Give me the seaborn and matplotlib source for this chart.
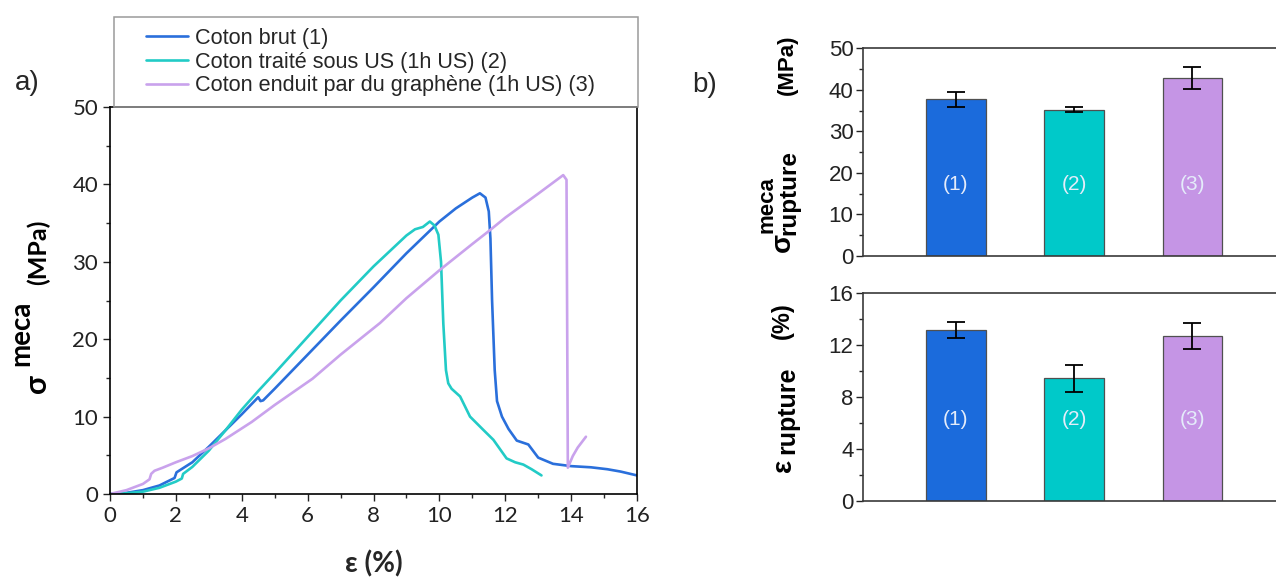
import numpy as np
import pandas as pd
import matplotlib
matplotlib.use("Agg")
import matplotlib.pyplot as plt
import seaborn as sns
from matplotlib.ticker import MultipleLocator
from matplotlib.patches import Rectangle

# ---------------- data ----------------
series_names = ["Coton brut (1)",
                "Coton traité sous US (1h US) (2)",
                "Coton enduit par du graphène (1h US) (3)"]

brut_strain = [0, 0.5, 1.0, 1.5, 1.96, 2.02, 2.5, 3.0, 3.5, 4.0, 4.5, 4.57, 4.65, 5.0, 6.0,
               7.0, 8.0, 9.0, 10.0, 10.5, 11.0, 11.23, 11.4, 11.5, 11.55, 11.6, 11.68, 11.75,
               11.9, 12.1, 12.35, 12.7, 13.0, 13.45, 14.0, 14.6, 15.1, 15.5, 16.0]
brut_stress = [0, 0.15, 0.5, 1.1, 2.07, 2.8, 4.1, 6.1, 8.2, 10.3, 12.5, 12.0, 12.1, 13.6, 18.0,
               22.4, 26.7, 31.1, 35.2, 36.9, 38.3, 38.85, 38.3, 36.5, 33.0, 25.0, 16.0, 12.0,
               10.0, 8.4, 6.9, 6.4, 4.7, 3.9, 3.6, 3.45, 3.2, 2.9, 2.4]

us_strain = [0, 0.5, 1.0, 1.5, 2.0, 2.18, 2.22, 2.5, 3.0, 3.5, 4.0, 4.5, 5.0, 6.0, 7.0, 8.0,
             8.5, 9.0, 9.26, 9.5, 9.71, 9.85, 9.97, 10.05, 10.12, 10.2, 10.27, 10.37, 10.63,
             10.93, 11.33, 11.64, 12.04, 12.3, 12.55, 12.8, 13.1]
us_stress = [0, 0.1, 0.3, 0.8, 1.6, 2.0, 2.6, 3.5, 5.6, 8.2, 10.9, 13.3, 15.6, 20.3, 25.0, 29.4,
             31.4, 33.4, 34.2, 34.5, 35.2, 34.7, 33.5, 30.0, 22.0, 16.0, 14.3, 13.6, 12.6,
             10.0, 8.3, 7.0, 4.6, 4.1, 3.8, 3.2, 2.4]

gr_strain = [0, 0.5, 1.0, 1.2, 1.25, 1.35, 1.6, 2.0, 2.5, 3.0, 3.5, 4.3, 5.0, 6.15, 7.0, 8.2,
             9.0, 10.0, 11.0, 11.54, 12.0, 13.0, 13.76, 13.86, 13.9, 14.05, 14.2, 14.45]
gr_stress = [0, 0.5, 1.3, 1.9, 2.6, 3.0, 3.4, 4.1, 4.9, 5.9, 7.1, 9.3, 11.5, 14.9, 18.0, 22.1,
             25.3, 28.9, 32.3, 34.1, 35.7, 38.8, 41.2, 40.6, 3.4, 4.9, 6.0, 7.4]

bar_labels = ["(1)", "(2)", "(3)"]
sigma_rupture = [37.7, 35.2, 42.8]
sigma_err = [1.9, 0.6, 2.7]
eps_rupture = [13.17, 9.44, 12.71]
eps_err = [0.6, 1.03, 1.03]

line_colors = ["#2A6FDB", "#22CBC6", "#C9A2EC"]
bar_colors = ["#1B6BDC", "#00C9C9", "#C595E5"]

# ---------------- style ----------------
sns.set_style("ticks")
plt.rcParams["font.family"] = ["Liberation Sans", "DejaVu Sans"]

W, H = 1276, 578
fig = plt.figure(figsize=(W / 100, H / 100), dpi=100)


def fx(px):
    return px / W


def fy(py):
    return 1 - py / H


# ---------------- panel a ----------------
ax = fig.add_axes([fx(110), fy(494), fx(637) - fx(110), fy(107) - fy(494)])
df = pd.concat([
    pd.DataFrame({"strain": brut_strain, "stress": brut_stress, "sample": series_names[0]}),
    pd.DataFrame({"strain": us_strain, "stress": us_stress, "sample": series_names[1]}),
    pd.DataFrame({"strain": gr_strain, "stress": gr_stress, "sample": series_names[2]}),
])
sns.lineplot(data=df, x="strain", y="stress", hue="sample", hue_order=series_names,
             palette=line_colors, sort=False, estimator=None, linewidth=1.9, ax=ax)
ax.set_xlim(0, 16)
ax.set_ylim(0, 50)
ax.xaxis.set_major_locator(MultipleLocator(2))
ax.xaxis.set_minor_locator(MultipleLocator(1))
ax.yaxis.set_major_locator(MultipleLocator(10))
ax.yaxis.set_minor_locator(MultipleLocator(5))
ax.tick_params(which="major", direction="out", length=5, width=1, labelsize=16, colors="#222222")
ax.tick_params(which="minor", direction="out", length=3, width=1)
for lab in ax.get_xticklabels() + ax.get_yticklabels():
    lab.set_family(["Lato", "DejaVu Sans"])
for s in ax.spines.values():
    s.set_visible(True)
    s.set_linewidth(1.2)
    s.set_color("black")
ax.set_xlabel("ε (%)", fontsize=20, fontweight="bold", family=["Lato", "DejaVu Sans"], labelpad=18)
ax.set_ylabel("")

handles, labels = ax.get_legend_handles_labels()
ax.get_legend().remove()
fig.legend(handles, labels, loc="upper left", bbox_to_anchor=(fx(146), fy(28)),
           bbox_transform=fig.transFigure, frameon=False, fontsize=15.6,
           handlelength=1.95, handletextpad=0.3, labelspacing=0.12, borderpad=0,
           borderaxespad=0)
fig.add_artist(Rectangle((fx(113.5), fy(107)), fx(637.5) - fx(113.5), fy(16.8) - fy(107),
                         transform=fig.transFigure, fill=False, edgecolor="#9a9a9a", lw=1.1))

# left y label pieces (sigma, raised "meca", "(MPa)")
lab_kw = dict(rotation=90, rotation_mode="anchor", ha="left", va="baseline",
              fontweight="bold", family=["Lato", "DejaVu Sans"], color="black")
fig.text(fx(46), fy(393), "σ", fontsize=22, **lab_kw)
fig.text(fx(29), fy(366), "meca", fontsize=20, **lab_kw)
fig.text(fx(46), fy(285), "(MPa)", fontsize=18, **lab_kw)

fig.text(fx(27), fy(83), "a)", fontsize=20, ha="center", va="center")
fig.text(fx(705), fy(85), "b)", fontsize=20, ha="center", va="center")

# ---------------- panel b ----------------
xl = (-0.784, 2.707)
rk = dict(rotation=90, rotation_mode="anchor", ha="left", va="baseline",
          fontweight="bold", color="black")


def bar_panel(rect, values, errs, ylim, major, minor, label_y):
    bx = fig.add_axes(rect)
    sns.barplot(x=bar_labels, y=values, hue=bar_labels, palette=bar_colors, legend=False,
                saturation=1, width=0.505, edgecolor="#505050", linewidth=0.9,
                errorbar=None, ax=bx)
    patches = sorted(bx.patches, key=lambda p: p.get_x())
    centers = [p.get_x() + p.get_width() / 2 for p in patches]
    bx.errorbar(centers, values, yerr=errs, fmt="none", ecolor="black",
                elinewidth=1.3, capsize=6.5, capthick=1.3)
    for c, lab in zip(centers, bar_labels):
        bx.text(c, label_y, lab, ha="center", va="center", fontsize=15, color="#E4ECFA")
    bx.set_xlim(*xl)
    bx.set_ylim(*ylim)
    bx.yaxis.set_major_locator(MultipleLocator(major))
    bx.yaxis.set_minor_locator(MultipleLocator(minor))
    bx.tick_params(axis="y", which="major", direction="out", length=5, width=1,
                   labelsize=16, colors="#222222", pad=2)
    bx.tick_params(axis="y", which="minor", direction="out", length=3, width=1)
    bx.tick_params(axis="x", which="both", bottom=False, labelbottom=False)
    bx.spines["right"].set_visible(False)
    for k in ("left", "top", "bottom"):
        bx.spines[k].set_visible(True)
        bx.spines[k].set_color("#3a3a3a")
        bx.spines[k].set_linewidth(1.2)
    bx.set_xlabel("")
    bx.set_ylabel("")
    return bx


bar_panel([fx(863.3), fy(256), 1 - fx(863.3), fy(48.3) - fy(256)], sigma_rupture, sigma_err,
          (0, 50), 10, 5, 17.1)
bar_panel([fx(863.3), fy(500.7), 1 - fx(863.3), fy(293.3) - fy(500.7)], eps_rupture, eps_err,
          (0, 16), 4, 2, 6.3)

# right y labels built from pieces
fig.text(fx(790), fy(252), "σ", fontsize=20, **rk)
fig.text(fx(772), fy(233), "meca", fontsize=16, **rk)
fig.text(fx(795), fy(235), "rupture", fontsize=17.5, **rk)
fig.text(fx(793), fy(95), "(MPa)", fontsize=16, **rk)

fig.text(fx(791), fy(472), "ε", fontsize=20, **rk)
fig.text(fx(794), fy(454), "rupture", fontsize=18, **rk)
fig.text(fx(789), fy(339), "(%)", fontsize=17, **rk)

fig.savefig("out.png", dpi=100)
